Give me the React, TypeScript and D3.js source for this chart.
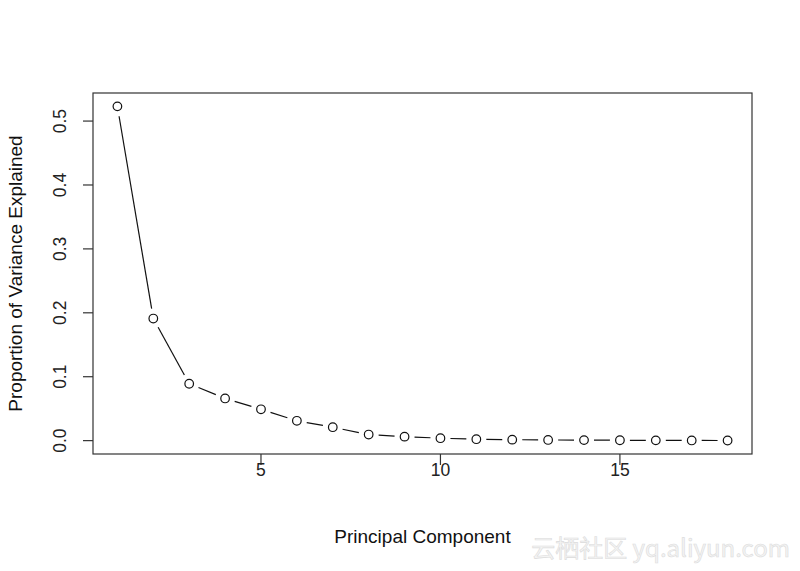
import { useRef, useEffect } from 'react';
import * as d3 from 'd3';

// proportion of variance explained per principal component
const components = [1, 2, 3, 4, 5, 6, 7, 8, 9, 10, 11, 12, 13, 14, 15, 16, 17, 18];
const pve = [0.523, 0.191, 0.089, 0.066, 0.049, 0.031, 0.021, 0.0095, 0.0062, 0.0038, 0.0022, 0.0015, 0.0011, 0.0008, 0.0006, 0.0004, 0.0003, 0.0002];
const xTicks = [5, 10, 15];
const yTicks = [0, 0.1, 0.2, 0.3, 0.4, 0.5];

export default function App() {
  const svgRef = useRef<SVGSVGElement>(null);
  const width = 800;
  const height = 571;

  useEffect(() => {
    document.body.style.margin = '0';
    if (!svgRef.current) return;
    const svg = d3.select(svgRef.current);
    svg.selectAll('*').remove();

    const box = { left: 93, top: 93, right: 752, bottom: 454 };
    const font = 'Liberation Sans, Arial, Helvetica, sans-serif';

    // R-style 4% padding on both ends
    const xPad = (18 - 1) * 0.04;
    const xScale = d3.scaleLinear().domain([1 - xPad, 18 + xPad]).range([box.left, box.right]);
    const yMax = d3.max(pve) as number;
    const yPad = yMax * 0.04;
    const yScale = d3.scaleLinear().domain([-yPad, yMax + yPad]).range([box.bottom, box.top]);

    svg.append('rect')
      .attr('width', width).attr('height', height).attr('fill', '#ffffff');

    // frame
    svg.append('rect')
      .attr('x', box.left).attr('y', box.top)
      .attr('width', box.right - box.left).attr('height', box.bottom - box.top)
      .attr('fill', 'none').attr('stroke', '#333').attr('stroke-width', 1.2);

    // y axis
    const yAxis = svg.append('g');
    yTicks.forEach(t => {
      const y = yScale(t);
      yAxis.append('line')
        .attr('x1', box.left - 10).attr('x2', box.left)
        .attr('y1', y).attr('y2', y)
        .attr('stroke', '#333').attr('stroke-width', 1.2);
      yAxis.append('text')
        .attr('transform', `translate(65.5,${y}) rotate(-90)`)
        .attr('text-anchor', 'middle')
        .attr('font-family', font).attr('font-size', 17.5).attr('fill', '#222')
        .text(d3.format('.1f')(t));
    });

    // x axis
    const xAxis = svg.append('g');
    xTicks.forEach(t => {
      const x = xScale(t);
      xAxis.append('line')
        .attr('x1', x).attr('x2', x)
        .attr('y1', box.bottom).attr('y2', box.bottom + 11)
        .attr('stroke', '#333').attr('stroke-width', 1.2);
      xAxis.append('text')
        .attr('x', x).attr('y', 470)
        .attr('text-anchor', 'middle').attr('dominant-baseline', 'central')
        .attr('font-family', font).attr('font-size', 17.5).attr('fill', '#222')
        .text(t);
    });

    // titles
    svg.append('text')
      .attr('x', (box.left + box.right) / 2).attr('y', 536)
      .attr('text-anchor', 'middle').attr('dominant-baseline', 'central')
      .attr('font-family', font).attr('font-size', 19).attr('fill', '#111')
      .text('Principal Component');
    svg.append('text')
      .attr('transform', `translate(15,${(box.top + box.bottom) / 2}) rotate(-90)`)
      .attr('text-anchor', 'middle').attr('dominant-baseline', 'central')
      .attr('font-family', font).attr('font-size', 19).attr('fill', '#111')
      .text('Proportion of Variance Explained');

    // type="b": segments with gaps around the points
    const r = 4.3;
    const gap = 10;
    const pts = components.map((c, i) => [xScale(c), yScale(pve[i])]);
    const segs = svg.append('g');
    for (let i = 0; i < pts.length - 1; i++) {
      const [x1, y1] = pts[i];
      const [x2, y2] = pts[i + 1];
      const len = Math.hypot(x2 - x1, y2 - y1);
      if (len <= 2 * gap) continue;
      const ux = (x2 - x1) / len;
      const uy = (y2 - y1) / len;
      segs.append('line')
        .attr('x1', x1 + ux * gap).attr('y1', y1 + uy * gap)
        .attr('x2', x2 - ux * gap).attr('y2', y2 - uy * gap)
        .attr('stroke', '#111').attr('stroke-width', 1.2);
    }

    svg.append('g').selectAll('circle')
      .data(pts)
      .enter()
      .append('circle')
      .attr('cx', d => d[0]).attr('cy', d => d[1])
      .attr('r', r)
      .attr('fill', 'none').attr('stroke', '#111').attr('stroke-width', 1.2);

    // watermark
    svg.append('text')
      .attr('x', 790).attr('y', 546)
      .attr('text-anchor', 'end').attr('dominant-baseline', 'central')
      .attr('font-family', 'Noto Sans CJK SC, Liberation Sans, sans-serif').attr('font-size', 24)
      .attr('fill', '#f4f4f4').attr('stroke', '#dcdcdc').attr('stroke-width', 0.6)
      .text('云栖社区 yq.aliyun.com');
  }, []);

  return (
    <div style={{ position: 'absolute', left: 0, top: 0 }}>
      <svg ref={svgRef} width={width} height={height} style={{ display: 'block' }} />
    </div>
  );
}
